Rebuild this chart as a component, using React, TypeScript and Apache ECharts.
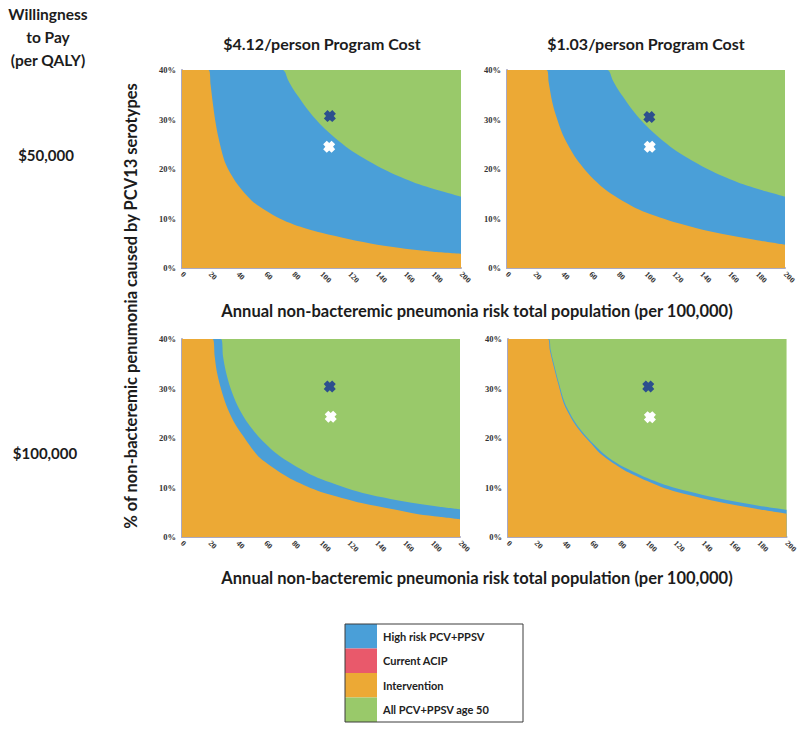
import React, { useEffect, useRef } from "react";
import * as echarts from "echarts";

// ---------- data ----------
const X_MIN = 0;
const X_MAX = 200;
const X_STEP = 20;
const Y_MIN = 0;
const Y_MAX = 40;
const Y_STEP = 10;

const columnTitles = ["$4.12/person Program Cost", "$1.03/person Program Cost"];
const rowTitles = ["$50,000", "$100,000"];
const legendNames = ["High risk PCV+PPSV", "Current ACIP", "Intervention", "All PCV+PPSV age 50"];

// whole plot top (green region: All PCV+PPSV age 50)
const allPcvTop = [[0, 40], [200, 40]];

// $50,000 / $4.12
const tlIntervention = [[0, 40], [19, 40], [20.5, 37], [22, 33.5], [24, 29.5], [26, 26.5], [30, 22], [33, 20], [40, 16.8], [50, 13.6], [60, 11.6], [70, 10], [80, 8.8], [90, 7.9], [100, 7.1], [120, 5.8], [140, 4.7], [160, 3.9], [180, 3.3], [200, 2.9]];
const tlHighRisk = [[0, 40], [72, 40], [76, 38], [80, 36], [85, 34], [90, 32], [95, 30.3], [100, 28.8], [110, 26.2], [120, 24], [130, 22.2], [140, 20.6], [150, 19.2], [160, 18], [170, 16.9], [180, 16], [190, 15.2], [200, 14.4]];
const tlMarkerDark = [[106, 30.7]];
const tlMarkerWhite = [[105.5, 24.5]];

// $50,000 / $1.03
const trIntervention = [[0, 40], [28.5, 40], [30, 37.5], [32.5, 33.6], [35, 31], [40, 27], [45, 24.3], [50, 22], [55, 20.2], [60, 18.6], [70, 16], [80, 14.1], [90, 12.5], [100, 11.2], [110, 10.2], [120, 9.3], [140, 7.8], [160, 6.6], [180, 5.6], [200, 4.7]];
const trHighRisk = [[0, 40], [72, 40], [76, 38], [80, 36], [85, 34], [90, 32], [95, 30.3], [100, 28.8], [110, 26.2], [120, 24], [130, 22.2], [140, 20.6], [150, 19.2], [160, 18], [170, 16.9], [180, 16], [190, 15.2], [200, 14.4]];
const trMarkerDark = [[102.4, 30.5]];
const trMarkerWhite = [[102.7, 24.5]];

// $100,000 / $4.12
const blIntervention = [[0, 40], [22, 40], [23.5, 36.5], [25, 33.5], [28, 30], [32, 26.5], [36, 24], [40, 22], [45, 20], [50, 18], [56, 16], [64, 14.3], [72, 12.8], [80, 11.5], [90, 10.2], [100, 9.1], [115, 7.9], [130, 6.8], [150, 5.7], [170, 4.6], [185, 4.1], [200, 3.6]];
const blHighRisk = [[0, 40], [28, 40], [29.5, 36.5], [31.5, 33.5], [35, 30], [40, 26.5], [45, 24], [50, 22], [56, 20], [64, 17.8], [72, 16], [80, 14.6], [90, 13], [100, 11.7], [115, 10.2], [130, 8.9], [150, 7.7], [170, 6.7], [185, 6.1], [200, 5.6]];
const blMarkerDark = [[106.3, 30.4]];
const blMarkerWhite = [[107, 24.3]];

// $100,000 / $1.03
const brIntervention = [[0, 40], [28.6, 40], [30, 37.8], [33.4, 33.8], [36, 31], [40, 27], [45, 24.2], [50, 22], [55, 20.3], [60, 18.8], [65.6, 17], [70, 16], [75, 15], [83.5, 13.5], [90, 12.6], [100, 11.3], [110, 10.1], [120, 9.2], [140, 7.8], [160, 6.6], [180, 5.6], [200, 4.7]];
const brHighRisk = [[0, 40], [29.2, 40], [30.6, 37.8], [34, 33.8], [36.6, 31], [40.6, 27.2], [45.6, 24.4], [50.6, 22.2], [55.6, 20.5], [60.6, 19], [70, 16.5], [80, 14.6], [90, 13.2], [100, 11.9], [110, 10.8], [120, 9.9], [140, 8.5], [160, 7.3], [180, 6.3], [200, 5.5]];
const brMarkerDark = [[100.7, 30.4]];
const brMarkerWhite = [[101.9, 24.2]];

// ---------- styles / layout ----------
const C_BLUE = "#4A9FD8";
const C_RED = "#E9596B";
const C_ORANGE = "#ECA935";
const C_GREEN = "#99C96A";
const C_MARK_DARK = "#2C4F8E";
const C_MARK_WHITE = "#FFFFFF";
const AXIS_COLOR = "#A9A9C4";
const TEXT = "#1c1c1c";
const SANS = "Lato, 'Open Sans', sans-serif";
const SERIF = "'Liberation Serif', 'DejaVu Serif', serif";
const MARKER = "path://M3,0 L5,1.8 L7,0 L10,3 L8.2,5 L10,7 L7,10 L5,8.2 L3,10 L0,7 L1.8,5 L0,3 Z";

const panels = [
  { grid: { left: 182, top: 70, width: 279, height: 198 }, intervention: tlIntervention, highRisk: tlHighRisk, dark: tlMarkerDark, white: tlMarkerWhite },
  { grid: { left: 507, top: 70, width: 278, height: 198 }, intervention: trIntervention, highRisk: trHighRisk, dark: trMarkerDark, white: trMarkerWhite },
  { grid: { left: 182, top: 339, width: 278, height: 198 }, intervention: blIntervention, highRisk: blHighRisk, dark: blMarkerDark, white: blMarkerWhite },
  { grid: { left: 508, top: 339, width: 280, height: 198 }, intervention: brIntervention, highRisk: brHighRisk, dark: brMarkerDark, white: brMarkerWhite },
];

function buildOption() {
  const grids = panels.map((p) => ({ ...p.grid, containLabel: false }));
  const xAxes = panels.map((_, i) => ({
    type: "value",
    gridIndex: i,
    min: X_MIN,
    max: X_MAX,
    interval: X_STEP,
    z: 1,
    axisLine: { show: true, lineStyle: { color: AXIS_COLOR, width: 2 } },
    axisTick: { show: false },
    splitLine: { show: false },
    axisLabel: { rotate: -45, margin: 5, fontFamily: SERIF, fontWeight: "bold", fontSize: 8, color: "#333" },
  }));
  const yAxes = panels.map((_, i) => ({
    type: "value",
    gridIndex: i,
    min: Y_MIN,
    max: Y_MAX,
    interval: Y_STEP,
    z: 1,
    axisLine: { show: true, lineStyle: { color: AXIS_COLOR, width: 2 } },
    axisTick: { show: false },
    splitLine: { show: false },
    axisLabel: { formatter: "{value}%", margin: 6, fontFamily: SERIF, fontWeight: "bold", fontSize: 8.5, color: "#333" },
  }));

  const areaSeries = (name: string, color: string, data: number[][], i: number) => ({
    name,
    type: "line",
    xAxisIndex: i,
    yAxisIndex: i,
    data,
    smooth: 0.3,
    symbol: "none",
    showSymbol: false,
    silent: true,
    z: 2,
    color,
    itemStyle: { color },
    lineStyle: { width: 0, color },
    areaStyle: { color, opacity: 1 },
    clip: true,
  });

  const series: any[] = [];
  panels.forEach((p, i) => {
    series.push(areaSeries(legendNames[3], C_GREEN, allPcvTop, i));
    series.push(areaSeries(legendNames[0], C_BLUE, p.highRisk, i));
    series.push(areaSeries(legendNames[2], C_ORANGE, p.intervention, i));
  });
  panels.forEach((p, i) => {
    series.push({
      name: "Point A",
      type: "scatter",
      xAxisIndex: i,
      yAxisIndex: i,
      data: p.dark,
      symbol: MARKER,
      symbolSize: 12,
      z: 6,
      itemStyle: { color: C_MARK_DARK, opacity: 1 },
      silent: true,
    });
    series.push({
      name: "Point B",
      type: "scatter",
      xAxisIndex: i,
      yAxisIndex: i,
      data: p.white,
      symbol: MARKER,
      symbolSize: 12,
      z: 6,
      itemStyle: { color: C_MARK_WHITE, opacity: 1 },
      silent: true,
    });
  });
  series.push({
    name: legendNames[1],
    type: "line",
    xAxisIndex: 0,
    yAxisIndex: 0,
    data: [],
    color: C_RED,
    itemStyle: { color: C_RED },
    lineStyle: { color: C_RED },
  });

  const txt = (text: string, x: number, y: number, size = 14, extra: any = {}) => ({
    type: "text",
    x,
    y,
    silent: true,
    ...extra,
    style: {
      text,
      fill: TEXT,
      font: `bold ${size}px ${SANS}`,
      textAlign: "center",
      textVerticalAlign: "middle",
    },
  });

  const graphic: any[] = [
    txt("Willingness", 48, 14, 15.5),
    txt("to Pay", 48, 37, 15.5),
    txt("(per QALY)", 48, 60, 15.5),
    txt(rowTitles[0], 46, 155, 15),
    txt(rowTitles[1], 45, 453, 15),
    txt(columnTitles[0], 322, 43, 16),
    txt(columnTitles[1], 646, 43, 16),
    txt("Annual non-bacteremic pneumonia risk total population (per 100,000)", 477, 311, 16.5),
    txt("Annual non-bacteremic pneumonia risk total population (per 100,000)", 477, 578, 16.5),
    txt("% of non-bacteremic penumonia caused by PCV13 serotypes", 131, 306, 16.5, { rotation: Math.PI / 2 }),
    {
      type: "rect",
      silent: true,
      z: 10,
      shape: { x: 345, y: 624, width: 178, height: 98 },
      style: { fill: "none", stroke: "#3c3c3c", lineWidth: 1 },
    },
  ];

  return {
    animation: false,
    backgroundColor: "#ffffff",
    grid: grids,
    xAxis: xAxes,
    yAxis: yAxes,
    legend: {
      data: legendNames,
      orient: "vertical",
      left: 345,
      top: 624,
      padding: 0,
      itemGap: 0,
      itemWidth: 32,
      itemHeight: 24.5,
      icon: "rect",
      selectedMode: false,
      textStyle: { fontFamily: SANS, fontWeight: "bold", fontSize: 11, color: "#222", padding: [0, 0, 0, 1] },
    },
    series,
    graphic,
  };
}

export default function App() {
  const ref = useRef<HTMLDivElement>(null);
  useEffect(() => {
    if (!ref.current) return;
    const chart = echarts.init(ref.current, undefined, { renderer: "svg" });
    chart.setOption(buildOption() as any);
    return () => chart.dispose();
  }, []);
  return (
    <div
      ref={ref}
      style={{ position: "absolute", left: 0, top: 0, width: 800, height: 734, background: "#fff" }}
    />
  );
}
